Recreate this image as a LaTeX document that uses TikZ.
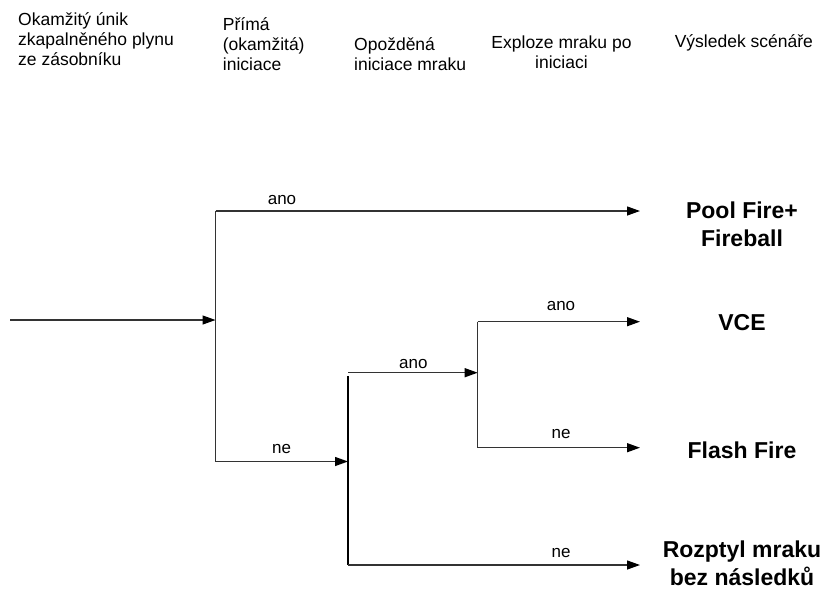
\documentclass[tikz,border=0pt]{standalone}
\usepackage{fontspec}
\setmainfont{Liberation Sans}
\usetikzlibrary{arrows.meta}
\tikzset{
  conn/.style={line width=1.3pt, draw=black!80},
  arr/.style={conn, -{Triangle[length=13pt,width=9pt,color=black]}},
  hdr/.style={inner sep=0pt, font=\fontsize{17.5}{20}\selectfont},
  lbl/.style={inner sep=0pt, anchor=base, font=\fontsize{17}{20}\selectfont},
  outc/.style={inner sep=0pt, anchor=base, font=\bfseries\fontsize{23}{28}\selectfont},
}
\begin{document}
\begin{tikzpicture}[x=1pt,y=-1pt]
\path[use as bounding box] (0,0) rectangle (825,590);
% headers
\node[hdr, anchor=base west] (h1) at (18,25) {\begin{tabular}[t]{@{}l@{}}Okamžitý únik\\zkapalněného plynu\\ze zásobníku\end{tabular}};
\node[hdr, anchor=base west] (h2) at (222.7,30) {\begin{tabular}[t]{@{}l@{}}Přímá\\(okamžitá)\\iniciace\end{tabular}};
\node[hdr, anchor=base west] (h3) at (354,50) {\begin{tabular}[t]{@{}l@{}}Opožděná\\iniciace mraku\end{tabular}};
\node[hdr, anchor=base] (h4) at (561.5,48) {\begin{tabular}[t]{@{}c@{}}Exploze mraku po\\iniciaci\end{tabular}};
\node[hdr, anchor=base west] (h5) at (674.6,47) {Výsledek scénáře};
% junction coordinates
\coordinate (start) at (10,320);
\coordinate (j1) at (215.5,320);
\coordinate (j1t) at (215.5,211);
\coordinate (j1b) at (215.5,461.5);
\coordinate (j2in) at (348,461.5);
\coordinate (j2t) at (348,372.7);
\coordinate (j2v) at (348,376);
\coordinate (j2b) at (348,565);
\coordinate (j3in) at (477.7,372.7);
\coordinate (j3t) at (477.7,321.7);
\coordinate (j3b) at (477.7,447.7);
\coordinate (e1) at (640,211);
\coordinate (e2) at (640,321.7);
\coordinate (e3) at (640,447.7);
\coordinate (e4) at (640,565);
% connectors
\draw[arr] (start) -- (j1);
\draw[conn] (j1t) -- (j1b);
\draw[arr] (j1t) -- (e1);
\draw[arr] (j1b) -- (j2in);
\draw[conn, draw=black] (j2v) -- (j2b);
\draw[arr] (j2t) -- (j3in);
\draw[conn] (j3t) -- (j3b);
\draw[arr] (j3t) -- (e2);
\draw[arr] (j3b) -- (e3);
\draw[arr] (j2b) -- (e4);
% labels
\node[lbl] (l1) at (282,204) {ano};
\node[lbl] (l2) at (281.7,453.3) {ne};
\node[lbl] (l3) at (413.3,368.3) {ano};
\node[lbl] (l4) at (561,310.5) {ano};
\node[lbl] (l5) at (561,438.5) {ne};
\node[lbl] (l6) at (561,557) {ne};
% outcomes
\node[outc] (o1) at (742,218.5) {\begin{tabular}[t]{@{}c@{}}Pool Fire+\\Fireball\end{tabular}};
\node[outc] (o2) at (742,330) {VCE};
\node[outc] (o3) at (742,458.5) {Flash Fire};
\node[outc] (o4) at (742,557) {\begin{tabular}[t]{@{}c@{}}Rozptyl mraku\\bez následků\end{tabular}};
\end{tikzpicture}
\end{document}
